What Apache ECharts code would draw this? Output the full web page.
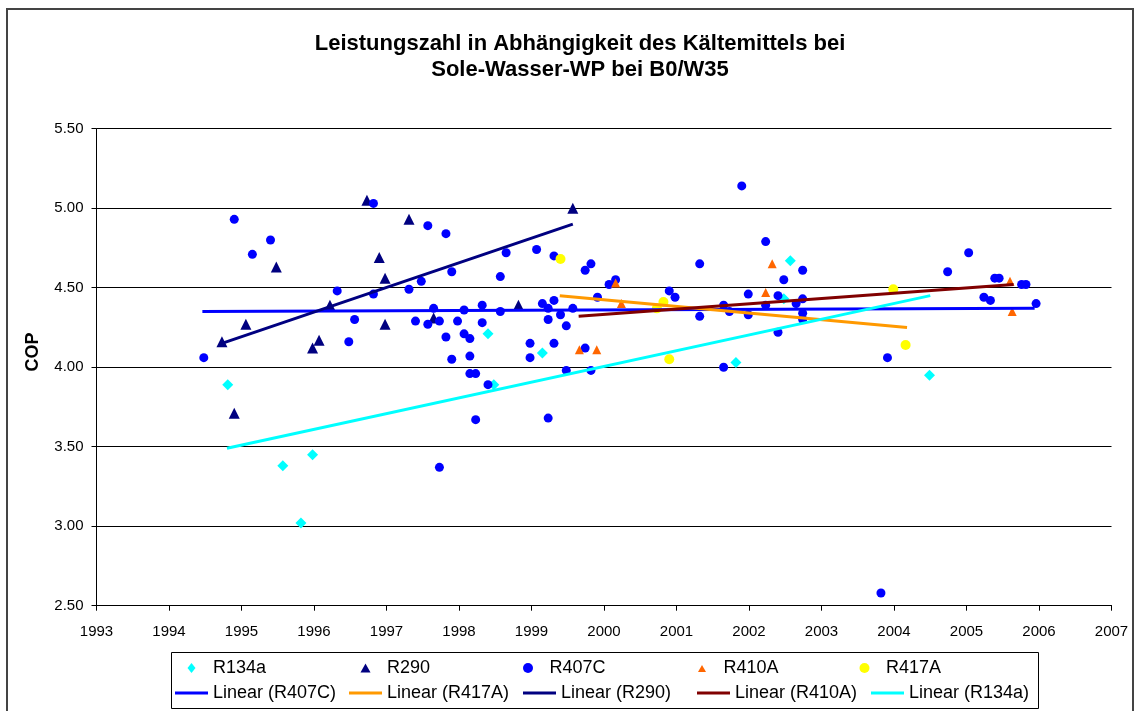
<!DOCTYPE html>
<html>
<head>
<meta charset="utf-8">
<script src="https://cdn.jsdelivr.net/npm/echarts@6/dist/echarts.min.js"></script>
<style>
  html, body { margin: 0; padding: 0; background: #fff; }
  #c1 { width: 1137px; height: 711px; }
</style>
</head>
<body>
<div id="c1"></div>
<script>
// Messwerte [Jahr, COP] je Kältemittel
var r134a = [
  [1994.81, 3.89], [1995.57, 3.38], [1995.82, 3.02], [1995.98, 3.45], [1998.40, 4.21],
  [1998.48, 3.89], [1999.15, 4.09], [2001.82, 4.03], [2002.48, 4.43], [2002.57, 4.67],
  [2004.49, 3.95]
]
var r290 = [
  [1994.73, 4.16], [1994.90, 3.71], [1995.06, 4.27], [1995.48, 4.63], [1995.98, 4.12],
  [1996.07, 4.17], [1996.22, 4.39], [1996.73, 5.05], [1996.90, 4.69], [1996.98, 4.56],
  [1996.98, 4.27], [1997.31, 4.93], [1997.65, 4.31], [1998.82, 4.39], [1999.57, 5.00]
]
var r407c = [
  [1994.48, 4.06], [1994.90, 4.93], [1995.15, 4.71], [1995.40, 4.80], [1996.32, 4.48],
  [1996.48, 4.16], [1996.56, 4.30], [1996.82, 5.03], [1996.82, 4.46], [1997.31, 4.49],
  [1997.40, 4.29], [1997.48, 4.54], [1997.57, 4.89], [1997.57, 4.27], [1997.65, 4.37],
  [1997.73, 4.29], [1997.73, 3.37], [1997.82, 4.84], [1997.82, 4.19], [1997.90, 4.60],
  [1997.90, 4.05], [1997.98, 4.29], [1998.07, 4.36], [1998.07, 4.21], [1998.15, 4.18],
  [1998.15, 4.07], [1998.15, 3.96], [1998.23, 3.96], [1998.23, 3.67], [1998.32, 4.39],
  [1998.32, 4.28], [1998.40, 3.89], [1998.57, 4.57], [1998.57, 4.35], [1998.65, 4.72],
  [1998.98, 4.15], [1998.98, 4.06], [1999.07, 4.74], [1999.15, 4.40], [1999.23, 4.37],
  [1999.23, 4.30], [1999.23, 3.68], [1999.31, 4.70], [1999.31, 4.42], [1999.31, 4.15],
  [1999.40, 4.33], [1999.48, 4.26], [1999.48, 3.98], [1999.57, 4.37], [1999.74, 4.61],
  [1999.74, 4.12], [1999.82, 4.65], [1999.82, 3.98], [1999.91, 4.44], [2000.07, 4.52],
  [2000.16, 4.55], [2000.90, 4.48], [2000.98, 4.44], [2001.32, 4.65], [2001.32, 4.32],
  [2001.65, 4.39], [2001.65, 4.00], [2001.73, 4.35], [2001.90, 5.14], [2001.99, 4.46],
  [2001.99, 4.33], [2002.23, 4.79], [2002.23, 4.39], [2002.40, 4.45], [2002.40, 4.22],
  [2002.48, 4.55], [2002.65, 4.40], [2002.74, 4.61], [2002.74, 4.43], [2002.74, 4.34],
  [2002.74, 4.30], [2003.82, 2.58], [2003.91, 4.06], [2004.74, 4.60], [2005.03, 4.72],
  [2005.24, 4.44], [2005.33, 4.42], [2005.39, 4.56], [2005.45, 4.56], [2005.76, 4.52],
  [2005.82, 4.52], [2005.96, 4.40]
]
var r410a = [
  [1999.66, 4.11], [1999.90, 4.11], [2000.16, 4.53], [2000.24, 4.40], [2002.23, 4.47],
  [2002.32, 4.65], [2005.60, 4.54], [2005.63, 4.35]
]
var r417a = [
  [1999.40, 4.68], [2000.73, 4.37], [2000.82, 4.41], [2000.90, 4.05], [2003.99, 4.49],
  [2004.16, 4.14]
]

// Trendlinien (Anfang / Ende)
var trendR407C = [[1994.46, 4.35], [2005.94, 4.37]]
var trendR417A = [[1999.39, 4.45], [2004.18, 4.25]]
var trendR290 = [[1994.73, 4.15], [1999.57, 4.90]]
var trendR410A = [[1999.65, 4.32], [2005.65, 4.52]]
var trendR134a = [[1994.80, 3.49], [2004.50, 4.45]]

var yearMin = 1993, yearMax = 2007
var copMin = 2.5, copMax = 5.5

var font = 'Liberation Sans, Arial, sans-serif'

// Legenden-Symbole: Pfad im 33x10-Feld, damit nichts verzerrt wird
var iconDiamond = 'path://M0,0M33,10M16.5,0L20.5,5L16.5,10L12.5,5Z'
var iconTriangle = 'path://M0,0M33,10M16.5,0.5L21.5,9.5L11.5,9.5Z'
var iconTriangleSmall = 'path://M0,0M33,10M16.5,2L20.5,9L12.5,9Z'

var myChart = echarts.init(document.getElementById('c1'))

function dots(name, data, symbol, size, color) {
  return {
    name: name,
    type: 'scatter',
    data: data,
    symbol: symbol,
    symbolSize: size,
    itemStyle: { color: color, opacity: 1 },
    emphasis: { disabled: true }
  }
}
function trend(name, data, color) {
  return {
    name: name,
    type: 'line',
    data: data,
    symbol: 'none',
    lineStyle: { width: 3, color: color },
    itemStyle: { color: color },
    emphasis: { disabled: true },
    z: 3
  }
}

var legendText = { fontFamily: font, fontSize: 18, color: '#000', width: 126, lineHeight: 20 }

var option = {
  animation: false,
  backgroundColor: '#fff',
  title: {
    text: 'Leistungszahl in Abhängigkeit des Kältemittels bei\nSole-Wasser-WP bei B0/W35',
    left: 575,
    top: 26,
    textAlign: 'center',
    textStyle: { fontFamily: font, fontSize: 22, fontWeight: 'bold', color: '#000', lineHeight: 26 }
  },
  grid: {
    left: 96.5,
    right: 25.5,
    top: 128.7,
    bottom: 105.3,
    containLabel: false
  },
  legend: [
    {
      left: 175,
      top: 658,
      padding: 0,
      orient: 'horizontal',
      itemWidth: 33,
      itemHeight: 10,
      itemGap: 10,
      textStyle: legendText,
      data: [
        { name: 'R134a', icon: iconDiamond },
        { name: 'R290', icon: iconTriangle },
        { name: 'R407C', icon: 'circle' },
        { name: 'R410A', icon: iconTriangleSmall },
        { name: 'R417A', icon: 'circle' }
      ]
    },
    {
      left: 175,
      top: 683,
      padding: 0,
      orient: 'horizontal',
      itemWidth: 33,
      itemHeight: 3,
      itemGap: 10,
      icon: 'rect',
      textStyle: legendText,
      data: ['Linear (R407C)', 'Linear (R417A)', 'Linear (R290)', 'Linear (R410A)', 'Linear (R134a)']
    }
  ],
  xAxis: {
    type: 'value',
    min: yearMin,
    max: yearMax,
    interval: 1,
    axisLine: { show: true, lineStyle: { color: '#000', width: 1 } },
    axisTick: { show: true, inside: false, length: 5, lineStyle: { color: '#000' } },
    axisLabel: {
      margin: 19,
      fontFamily: font,
      fontSize: 15,
      color: '#000',
      formatter: function (v) { return String(v) }
    },
    splitLine: { show: false }
  },
  yAxis: {
    type: 'value',
    min: copMin,
    max: copMax,
    interval: 0.5,
    axisLine: { show: true, lineStyle: { color: '#000', width: 1 } },
    axisTick: { show: true, inside: false, length: 5, lineStyle: { color: '#000' } },
    axisLabel: {
      margin: 13,
      fontFamily: font,
      fontSize: 15,
      color: '#000',
      formatter: function (v) { return v.toFixed(2) }
    },
    splitLine: { show: true, lineStyle: { color: '#000', width: 1, type: 'solid' } }
  },
  graphic: [
    {
      type: 'rect',
      silent: true,
      shape: { x: 7, y: 9, width: 1126, height: 720 },
      style: { fill: 'none', stroke: '#444', lineWidth: 2 }
    },
    {
      type: 'rect',
      silent: true,
      shape: { x: 171.5, y: 652.5, width: 867, height: 56 },
      style: { fill: 'none', stroke: '#000', lineWidth: 1 }
    },
    {
      type: 'text',
      silent: true,
      x: 33,
      y: 352,
      rotation: Math.PI / 2,
      style: {
        text: 'COP',
        fontFamily: font,
        fontSize: 18,
        fontWeight: 'bold',
        fill: '#000',
        align: 'center',
        verticalAlign: 'middle'
      }
    }
  ],
  series: [
    dots('R134a', r134a, 'diamond', 11, '#00FFFF'),
    dots('R290', r290, 'triangle', 11, '#000080'),
    dots('R407C', r407c, 'circle', 9, '#0000FF'),
    dots('R410A', r410a, 'triangle', 9, '#FF6600'),
    dots('R417A', r417a, 'circle', 10, '#FFFF00'),
    trend('Linear (R407C)', trendR407C, '#0000FF'),
    trend('Linear (R417A)', trendR417A, '#FF9900'),
    trend('Linear (R290)', trendR290, '#000080'),
    trend('Linear (R410A)', trendR410A, '#800000'),
    trend('Linear (R134a)', trendR134a, '#00FFFF')
  ]
}
option && myChart.setOption(option)
</script>
</body>
</html>
